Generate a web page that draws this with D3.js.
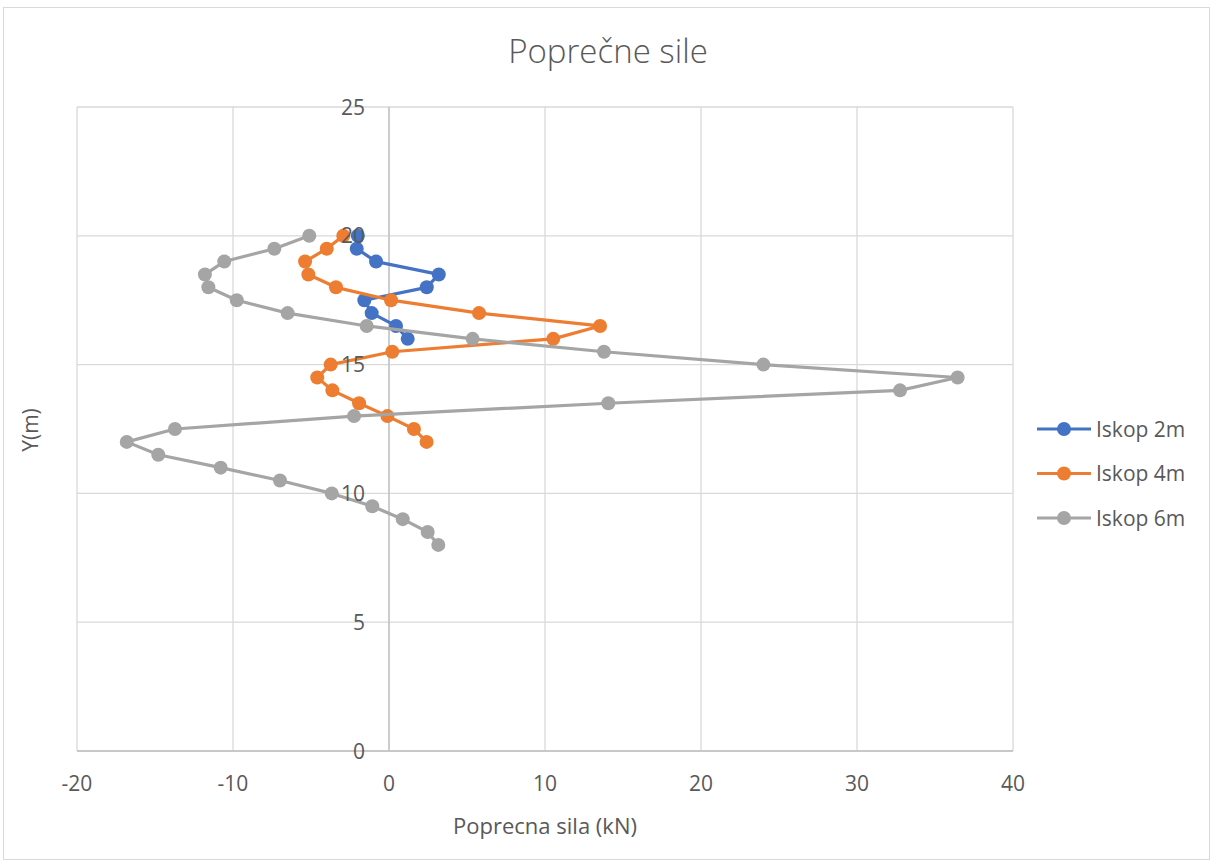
<!DOCTYPE html>
<html>
<head>
<meta charset="utf-8">
<script src="https://cdn.jsdelivr.net/npm/d3@7"></script>
<style>
  body { margin: 0; background: #fff; }
  text { font-family: "Open Sans", "Noto Sans", sans-serif; fill: #595959; }
</style>
</head>
<body>
<svg id="chart" width="1216" height="865"></svg>
<script>
// depth (m)
var depth = [20, 19.5, 19, 18.5, 18, 17.5, 17, 16.5, 16, 15.5, 15, 14.5, 14, 13.5, 13, 12.5, 12, 11.5, 11, 10.5, 10, 9.5, 9, 8.5, 8];

// shear force (kN) per excavation stage
var iskop2 = [-2.0, -2.07, -0.83, 3.19, 2.42, -1.58, -1.11, 0.45, 1.2];
var iskop4 = [-2.93, -3.99, -5.38, -5.17, -3.4, 0.13, 5.77, 13.53, 10.53, 0.21, -3.74, -4.6, -3.63, -1.92, -0.1, 1.6, 2.41];
var iskop6 = [-5.11, -7.35, -10.56, -11.8, -11.58, -9.76, -6.5, -1.43, 5.36, 13.78, 24.0, 36.45, 32.76, 14.06, -2.24, -13.72, -16.81, -14.79, -10.79, -6.99, -3.67, -1.07, 0.88, 2.48, 3.16];

var seriesNames = ["Iskop 2m", "Iskop 4m", "Iskop 6m"];
var colors = ["#4472C4", "#ED7D31", "#A5A5A5"];
var xTicks = [-20, -10, 0, 10, 20, 30, 40];
var yTicks = [0, 5, 10, 15, 20, 25];

var series = [iskop2, iskop4, iskop6].map(function (vals, i) {
  return {
    name: seriesNames[i],
    color: colors[i],
    points: vals.map(function (v, j) { return { x: v, y: depth[j] }; })
  };
});

var svg = d3.select("#chart");

// outer frame
svg.append("rect")
  .attr("x", 3.5).attr("y", 7.5)
  .attr("width", 1206).attr("height", 852)
  .attr("fill", "#fff")
  .attr("stroke", "#d9d9d9");

var x = d3.scaleLinear().domain([-20, 40]).range([77, 1013]);
var y = d3.scaleLinear().domain([0, 25]).range([751, 107]);

// gridlines
svg.append("g")
  .selectAll("line")
  .data(xTicks)
  .enter()
  .append("line")
  .attr("x1", function (d) { return x(d); })
  .attr("x2", function (d) { return x(d); })
  .attr("y1", y(0)).attr("y2", y(25))
  .attr("stroke", "#d9d9d9")
  .attr("stroke-width", 1.3);

svg.append("g")
  .selectAll("line")
  .data(yTicks)
  .enter()
  .append("line")
  .attr("x1", x(-20)).attr("x2", x(40))
  .attr("y1", function (d) { return y(d); })
  .attr("y2", function (d) { return y(d); })
  .attr("stroke", "#d9d9d9")
  .attr("stroke-width", 1.3);

// axis lines
svg.append("line")
  .attr("x1", x(0)).attr("x2", x(0))
  .attr("y1", y(0)).attr("y2", y(25))
  .attr("stroke", "#bfbfbf").attr("stroke-width", 1.3);
svg.append("line")
  .attr("x1", x(-20)).attr("x2", x(40))
  .attr("y1", y(0)).attr("y2", y(0))
  .attr("stroke", "#bfbfbf").attr("stroke-width", 1.3);

// lines + markers
var line = d3.line()
  .x(function (d) { return x(d.x); })
  .y(function (d) { return y(d.y); });

series.forEach(function (s) {
  var g = svg.append("g");
  g.append("path")
    .datum(s.points)
    .attr("d", line)
    .attr("fill", "none")
    .attr("stroke", s.color)
    .attr("stroke-width", 3.2)
    .attr("stroke-linejoin", "round");
  g.selectAll("circle")
    .data(s.points)
    .enter()
    .append("circle")
    .attr("cx", function (d) { return x(d.x); })
    .attr("cy", function (d) { return y(d.y); })
    .attr("r", 7)
    .attr("fill", s.color);
});

// tick labels (drawn on top of the data, like the original)
svg.append("g")
  .selectAll("text")
  .data(xTicks)
  .enter()
  .append("text")
  .attr("x", function (d) { return x(d); })
  .attr("y", 791)
  .attr("text-anchor", "middle")
  .style("font-size", "21px")
  .text(function (d) { return d; });

svg.append("g")
  .selectAll("text")
  .data(yTicks)
  .enter()
  .append("text")
  .attr("x", x(0) - 24)
  .attr("y", function (d) { return y(d) + 7.5; })
  .attr("text-anchor", "end")
  .style("font-size", "21px")
  .text(function (d) { return d; });

// titles
svg.append("text")
  .attr("x", 608).attr("y", 63)
  .attr("text-anchor", "middle")
  .style("font-size", "33px")
  .style("font-weight", 300)
  .text("Poprečne sile");

svg.append("text")
  .attr("x", 545).attr("y", 834)
  .attr("text-anchor", "middle")
  .style("font-size", "22px")
  .text("Poprecna sila (kN)");

svg.append("text")
  .attr("transform", "translate(38,430) rotate(-90)")
  .attr("text-anchor", "middle")
  .style("font-size", "21px")
  .text("Y(m)");

// legend
var legend = svg.append("g")
  .selectAll("g")
  .data(series)
  .enter()
  .append("g")
  .attr("transform", function (d, i) { return "translate(1037," + (429 + i * 44.5) + ")"; });
legend.append("line")
  .attr("x1", 0).attr("x2", 54)
  .attr("stroke", function (d) { return d.color; })
  .attr("stroke-width", 3.2);
legend.append("circle")
  .attr("cx", 27).attr("r", 7)
  .attr("fill", function (d) { return d.color; });
legend.append("text")
  .attr("x", 59).attr("y", 7.5)
  .style("font-size", "21px")
  .text(function (d) { return d.name; });
</script>
</body>
</html>
